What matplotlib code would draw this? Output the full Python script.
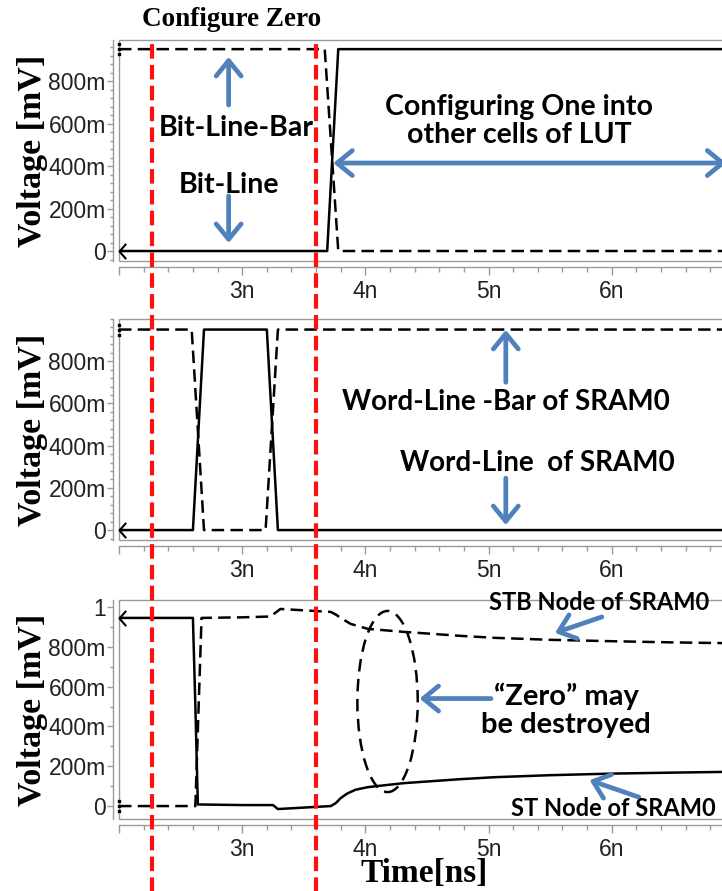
import numpy as np
import matplotlib
matplotlib.use("Agg")
import matplotlib.pyplot as plt
from matplotlib.patches import Rectangle, Ellipse, FancyArrowPatch
from matplotlib.path import Path
from matplotlib.ticker import MultipleLocator, FixedLocator, FuncFormatter

# -- waveform data (time in ns, voltage in V) --
# top: bit line / bit line bar
t_bl = [2.0, 3.69, 3.78, 6.96]
v_bl = [0.0, 0.0, 0.95, 0.95]
t_blb = [2.0, 3.67, 3.78, 6.96]
v_blb = [0.95, 0.95, 0.0, 0.0]

# middle: word line / word line bar of SRAM0
t_wl = [2.0, 2.60, 2.69, 3.20, 3.29, 6.96]
v_wl = [0.0, 0.0, 0.95, 0.95, 0.0, 0.0]
t_wlb = [2.0, 2.59, 2.69, 3.19, 3.29, 6.96]
v_wlb = [0.95, 0.95, 0.0, 0.0, 0.95, 0.95]

# bottom: ST / STB node of SRAM0
t_st = [2.0, 2.60, 2.62, 2.64, 3.0, 3.25, 3.29, 3.72, 3.76, 3.80, 3.85, 3.92,
        4.02, 4.31, 4.77, 5.05, 5.5, 6.0, 6.5, 6.96]
v_st = [0.945, 0.945, 0.5, 0.008, 0.005, 0.005, -0.015, 0.0, 0.015, 0.04, 0.062,
        0.082, 0.095, 0.115, 0.135, 0.145, 0.155, 0.163, 0.168, 0.172]
t_stb = [2.0, 2.62, 2.67, 3.0, 3.23, 3.31, 3.72, 3.76, 3.80, 3.88, 4.02, 4.31,
         4.77, 5.05, 5.5, 6.0, 6.5, 6.96]
v_stb = [0.0, 0.0, 0.945, 0.948, 0.952, 0.99, 0.975, 0.962, 0.945, 0.915, 0.89,
         0.875, 0.855, 0.845, 0.835, 0.828, 0.822, 0.818]

red_lines = [2.27, 3.60]

xticks_major = [2, 3, 4, 5, 6]
yticks_top = [0, 0.2, 0.4, 0.6, 0.8]
yticks_bot = [0, 0.2, 0.4, 0.6, 0.8, 1.0]

blue = "#4F81BD"
gray = "#9a9a9a"
serif = "Liberation Serif"
annot = "Lato"
XMIN, XMAX = 2.0, 6.96

fig = plt.figure(figsize=(7.22, 8.91), dpi=100)
W, H = 722.0, 891.0


def px_axes(x0, y0, x1, y1):
    return fig.add_axes([x0 / W, 1 - y1 / H, (x1 - x0) / W, (y1 - y0) / H])


def fmt_v(v, pos):
    if abs(v) < 1e-9:
        return "0"
    if v >= 0.999:
        return f"{v:g}"
    return f"{v * 1000:.0f}m"


chevron = Path([(0.7, 0.8), (0, 0), (0.7, -0.8)], [Path.MOVETO, Path.LINETO, Path.LINETO])


def setup(ax, ylim, yticks, yminor):
    ax.set_xlim(XMIN, XMAX)
    ax.set_ylim(*ylim)
    for s in ["top", "right"]:
        ax.spines[s].set_visible(False)
    for s in ["left", "bottom"]:
        ax.spines[s].set_position(("outward", 4.5))
        ax.spines[s].set_color(gray)
        ax.spines[s].set_linewidth(1.0)
    ax.add_patch(Rectangle((0, 0), 1, 1, transform=ax.transAxes, fill=False,
                           ec=gray, lw=1.0, clip_on=False, zorder=0.5))
    ax.xaxis.set_major_locator(FixedLocator(xticks_major))
    ax.xaxis.set_minor_locator(MultipleLocator(0.2))
    ax.xaxis.set_major_formatter(FuncFormatter(lambda v, p: "" if v < 2.5 else f"{int(round(v))}n"))
    ax.yaxis.set_major_locator(FixedLocator(yticks))
    ax.yaxis.set_minor_locator(MultipleLocator(yminor))
    ax.yaxis.set_major_formatter(FuncFormatter(fmt_v))
    ax.tick_params(which="both", color=gray, width=1.0, labelsize=16.5,
                   labelcolor="#222222")
    ax.tick_params(axis="x", which="major", length=6, pad=3)
    ax.tick_params(axis="x", which="minor", length=3.5)
    ax.tick_params(axis="y", which="major", length=4, pad=1)
    ax.tick_params(axis="y", which="minor", length=2.5)
    for lab in ax.get_xticklabels() + ax.get_yticklabels():
        lab.set_fontfamily("Liberation Sans")
    ax.set_ylabel("Voltage [mV]", fontfamily=serif, fontweight="bold",
                  fontsize=24.5, labelpad=0)


def wave(ax, t, v, dashed):
    if dashed:
        ax.plot(t, v, color="black", lw=1.8, dashes=(5, 2.5), zorder=3)
        ax.plot(t[:1], v[:1], marker="$\\vdots$", ms=9, color="black",
                linestyle="none", clip_on=False, zorder=3)
    else:
        ax.plot(t, v, color="black", lw=1.8, zorder=3)
        ax.plot(t[:1], v[:1], marker=chevron, ms=11, mew=1.5, mfc="none",
                color="black", linestyle="none", clip_on=False, zorder=3)


def arrow(ax, tail, tip, both=False):
    style = "<->" if both else "->"
    ax.add_patch(FancyArrowPatch(tail, tip, arrowstyle=style + ",head_length=0.55,head_width=0.45",
                                 mutation_scale=20, color=blue, lw=3.4,
                                 shrinkA=0, shrinkB=0, zorder=4))


def note(ax, x, y, s, size=20.5):
    ax.text(x, y, s, ha="center", va="center", fontfamily=annot,
            fontweight="bold", fontsize=size, color="black", linespacing=1.1,
            zorder=5)


# ---- top panel ----
ax1 = px_axes(119, 40, 730, 261)
setup(ax1, (-0.047, 0.993), yticks_top, 0.04)
wave(ax1, t_blb, v_blb, True)
wave(ax1, t_bl, v_bl, False)
arrow(ax1, (2.89, 0.687), (2.89, 0.913))
arrow(ax1, (2.89, 0.259), (2.89, 0.038))
arrow(ax1, (3.74, 0.414), (6.93, 0.414), both=True)
note(ax1, 2.95, 0.58, "Bit-Line-Bar")
note(ax1, 2.89, 0.31, "Bit-Line")
note(ax1, 5.25, 0.61, "Configuring One into\nother cells of LUT")

# ---- middle panel ----
ax2 = px_axes(119, 319, 730, 540)
setup(ax2, (-0.047, 1.0), yticks_top, 0.04)
wave(ax2, t_wlb, v_wlb, True)
wave(ax2, t_wl, v_wl, False)
arrow(ax2, (5.14, 0.70), (5.14, 0.948))
arrow(ax2, (5.14, 0.246), (5.14, 0.024))
note(ax2, 5.14, 0.607, "Word-Line -Bar of SRAM0", size=20)
note(ax2, 5.40, 0.317, "Word-Line  of SRAM0", size=20)

# ---- bottom panel ----
ax3 = px_axes(119, 600, 730, 819)
setup(ax3, (-0.065, 1.035), yticks_bot, 0.1)
wave(ax3, t_stb, v_stb, True)
wave(ax3, t_st, v_st, False)
ax3.add_patch(Ellipse((4.18, 0.525), 0.49, 0.91, fill=False, ec="black",
                      lw=1.8, linestyle=(0, (5, 3)), zorder=3))
arrow(ax3, (5.92, 0.95), (5.54, 0.87))
arrow(ax3, (5.02, 0.54), (4.44, 0.54))
arrow(ax3, (6.22, 0.045), (5.82, 0.13))
note(ax3, 5.90, 1.02, "STB Node of SRAM0", size=17)
note(ax3, 5.63, 0.48, "\u201cZero\u201d may\nbe destroyed", size=21)
note(ax3, 6.01, -0.01, "ST Node of SRAM0", size=17)
ax3.set_xlabel("Time[ns]", fontfamily=serif, fontweight="bold", fontsize=24,
               labelpad=-2)

# ---- red dashed markers spanning all panels ----
ov = px_axes(119, 38, 730, 900)
ov.set_xlim(XMIN, XMAX)
ov.set_ylim(0, 1)
ov.axis("off")
for xr in red_lines:
    ov.axvline(xr, color="#ff1010", lw=3.0, dashes=(3.5, 1.5), zorder=10)

fig.text(232 / W, 1 - 20 / H, "Configure Zero", ha="center", va="center",
         fontfamily=serif, fontweight="bold", fontsize=19.5)

fig.savefig("out.png", dpi=100)
